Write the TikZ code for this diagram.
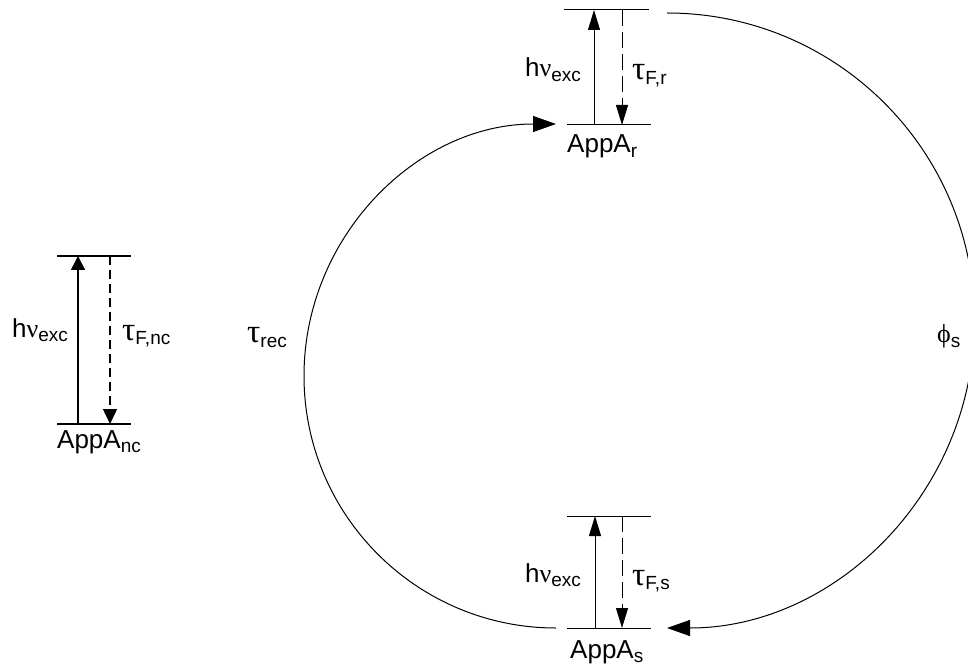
\documentclass[tikz,border=0pt]{standalone}
\usepackage{fontspec}
\setmainfont{Liberation Sans}
\newfontfamily\greekfont{Liberation Serif}
\usetikzlibrary{arrows.meta}

% Greek letters in a serif face, subscripts set lower and smaller
\newcommand\gk[1]{{\greekfont #1}}
\newcommand\gtau{{\fontsize{33}{33}\greekfont τ}}
\newcommand\lo[1]{\raisebox{-4.5pt}{\fontsize{19}{19}\selectfont #1}}

\begin{document}
\begin{tikzpicture}[x=1pt,y=1pt,
  every node/.style={inner sep=0pt, font=\fontsize{26}{26}\selectfont},
  heavylevel/.style={line width=1.6pt},
  lightlevel/.style={line width=1pt},
  heavyup/.style={line width=1.6pt, -{Triangle[length=14pt,width=14pt]}},
  heavydown/.style={line width=1.6pt, dash pattern=on 9pt off 5pt, -{Triangle[length=15pt,width=14pt]}},
  lightup/.style={line width=1pt, -{Triangle[length=20pt,width=12pt]}},
  lightdown/.style={line width=1pt, dash pattern=on 16pt off 6pt, -{Triangle[length=20pt,width=12pt]}},
  cycle arrow/.style={line width=1pt, -{Triangle[length=23pt,width=16pt]}}
]
\useasboundingbox (0,0) rectangle (968,670);

% ---- non-cycling AppA (left) ----
\coordinate (nc-t1) at (57,414);  \coordinate (nc-t2) at (131,414);
\coordinate (nc-b1) at (57,246);  \coordinate (nc-b2) at (131,246);
\coordinate (nc-ex0) at (78,246); \coordinate (nc-ex1) at (78,414);
\coordinate (nc-fl0) at (110,414);\coordinate (nc-fl1) at (110,246);
\draw[heavylevel] (nc-t1) -- (nc-t2);
\draw[heavylevel] (nc-b1) -- (nc-b2);
\draw[heavyup] (nc-ex0) -- (nc-ex1);
\draw[heavydown] (nc-fl0) -- (nc-fl1);
\node[anchor=base west] (nc-hv) at (12,333) {h\gk{ν}\lo{exc}};
\node[anchor=base west] (nc-tf) at (122,330) {\gtau\lo{F,nc}};
\node[anchor=base west] (nc-name) at (57,222) {AppA\lo{nc}};

% ---- AppA_r (top) ----
\coordinate (r-t1) at (564,660);  \coordinate (r-t2) at (649,660);
\coordinate (r-b1) at (567,545);  \coordinate (r-b2) at (651,545);
\coordinate (r-ex0) at (594,545); \coordinate (r-ex1) at (594,660);
\coordinate (r-fl0) at (622,660); \coordinate (r-fl1) at (622,545);
\draw[lightlevel] (r-t1) -- (r-t2);
\draw[lightlevel] (r-b1) -- (r-b2);
\draw[lightup] (r-ex0) -- (r-ex1);
\draw[lightdown] (r-fl0) -- (r-fl1);
\node[anchor=base west] (r-hv) at (525,593) {h\gk{ν}\lo{exc}};
\node[anchor=base west] (r-tf) at (632,590) {\gtau\lo{F,r}};
\node[anchor=base west] (r-name) at (567,517) {AppA\lo{r}};

% ---- AppA_s (bottom) ----
\coordinate (s-t1) at (567,154);  \coordinate (s-t2) at (651,154);
\coordinate (s-b1) at (567,42);   \coordinate (s-b2) at (651,42);
\coordinate (s-ex0) at (595,42);  \coordinate (s-ex1) at (595,154);
\coordinate (s-fl0) at (622,154); \coordinate (s-fl1) at (622,42);
\draw[lightlevel] (s-t1) -- (s-t2);
\draw[lightlevel] (s-b1) -- (s-b2);
\draw[lightup] (s-ex0) -- (s-ex1);
\draw[lightdown] (s-fl0) -- (s-fl1);
\node[anchor=base west] (s-hv) at (525,88) {h\gk{ν}\lo{exc}};
\node[anchor=base west] (s-tf) at (632,85) {\gtau\lo{F,s}};
\node[anchor=base west] (s-name) at (570,12) {AppA\lo{s}};

% ---- photocycle: recovery (left arc) and switching (right arc) ----
\coordinate (rec-start) at (556,42);
\coordinate (sw-start) at (667,657);
\draw[cycle arrow] (rec-start) arc[start angle=-90, end angle=-270, radius=252];
\draw[cycle arrow] (sw-start) arc[start angle=90, end angle=-90, radius=307.5];
\node[anchor=base west] (rec) at (247,327) {\gtau\lo{rec}};
\node[anchor=base west] (sw) at (937,327) {\gk{ϕ}\lo{s}};
\end{tikzpicture}
\end{document}
